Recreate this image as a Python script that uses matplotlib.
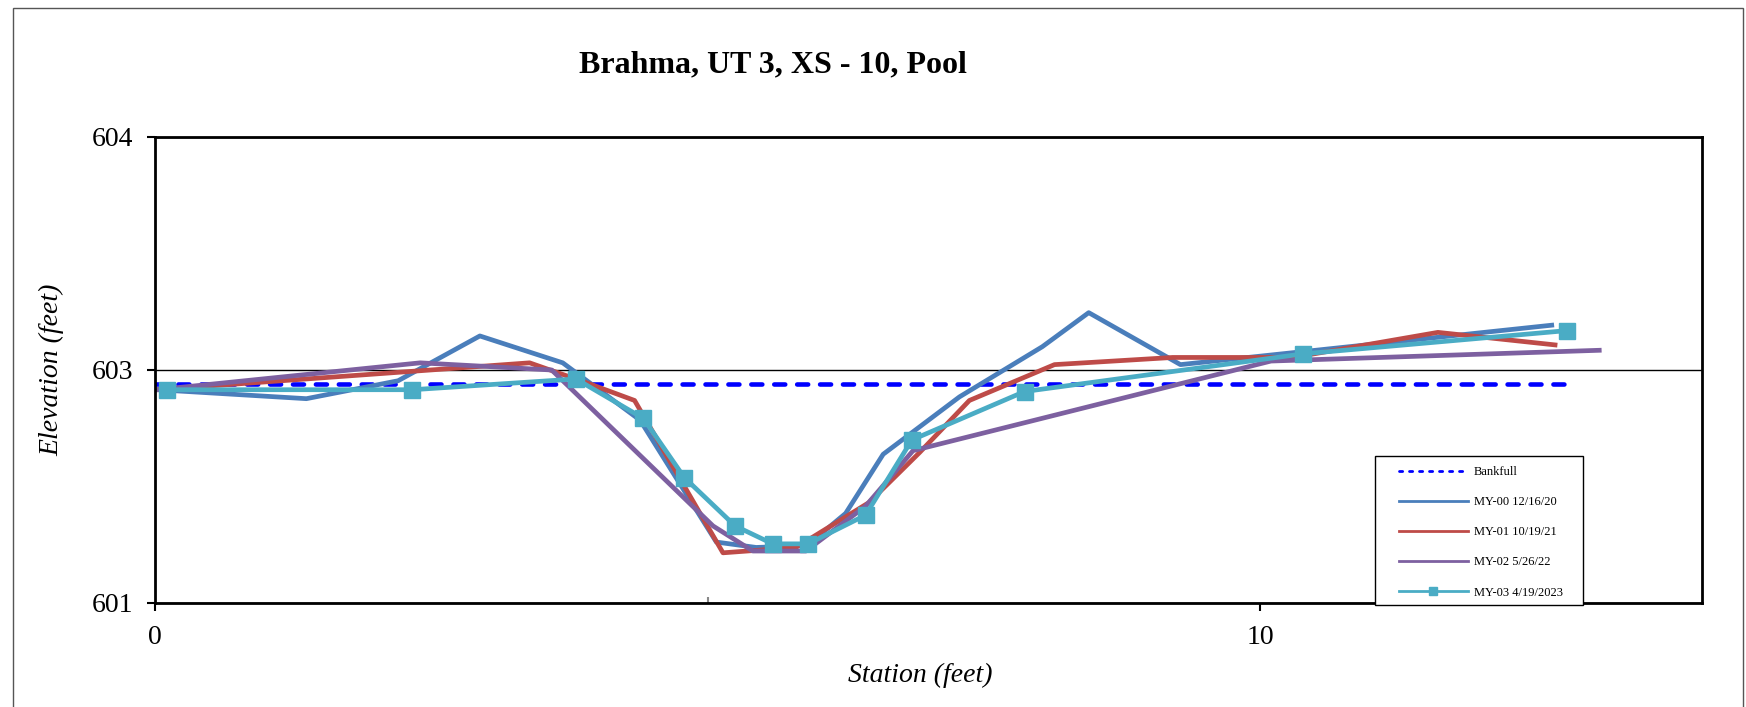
import numpy as np
import matplotlib
matplotlib.use("Agg")
import matplotlib.pyplot as plt
from matplotlib.ticker import FuncFormatter, FixedLocator
from matplotlib.patches import Rectangle

plt.rcParams['font.family'] = ['Liberation Serif', 'DejaVu Serif']

# surveyed cross-section, station (ft) vs elevation (ft)
bankfull_x = [0.0, 12.8]
bankfull_y = [602.62, 602.62]

my00_x = [0.02, 1.37, 2.20, 2.94, 3.69, 4.39, 5.08, 5.44, 5.90, 6.25, 6.59, 7.28, 8.03, 8.45, 9.28, 12.64]
my00_y = [602.59, 602.54, 602.64, 602.89, 602.74, 602.42, 601.74, 601.71, 601.72, 601.90, 602.23, 602.55,
          602.83, 603.02, 602.73, 602.95]

my01_x = [0.02, 3.39, 3.90, 4.34, 5.14, 5.80, 6.46, 6.92, 7.37, 8.14, 9.21, 10.30, 11.61, 12.67]
my01_y = [602.59, 602.74, 602.63, 602.53, 601.68, 601.71, 601.96, 602.24, 602.53, 602.73, 602.77, 602.77,
          602.91, 602.84]

my02_x = [0.02, 2.40, 3.59, 5.05, 5.41, 5.89, 6.43, 6.86, 10.10, 13.07]
my02_y = [602.59, 602.74, 602.70, 601.83, 601.69, 601.69, 601.94, 602.25, 602.75, 602.81]

my03_x = [0.11, 2.33, 3.81, 4.42, 4.79, 5.25, 5.59, 5.91, 6.43, 6.85, 7.87, 10.39, 12.78]
my03_y = [602.59, 602.59, 602.65, 602.43, 602.10, 601.83, 601.73, 601.73, 601.89, 602.31, 602.58, 602.79, 602.92]

y_ticks = [601.4, 602.7, 604.0]

W, H = 1746, 707
fig = plt.figure(figsize=(W / 100, H / 100), dpi=100)
fig.patches.append(Rectangle((13 / W, -0.1), (1743 - 13) / W, 1.1 - 8 / H, transform=fig.transFigure,
                             fill=False, edgecolor='#555555', linewidth=1.0))

ax = fig.add_axes([155 / W, 1 - 603 / H, (1702 - 155) / W, (603 - 137) / H])

ax.plot(bankfull_x, bankfull_y, color='#0000FF', linewidth=3.3, linestyle=(0, (2.4, 2.6)),
        dash_capstyle='round', label='Bankfull')
ax.plot(my00_x, my00_y, color='#4A7EBB', linewidth=3.4, label='MY-00 12/16/20')
ax.plot(my01_x, my01_y, color='#BE4B48', linewidth=3.4, label='MY-01 10/19/21')
ax.plot(my02_x, my02_y, color='#7D60A0', linewidth=3.4, label='MY-02 5/26/22')
ax.plot(my03_x, my03_y, color='#4AACC5', linewidth=3.4, marker='s', markersize=11, label='MY-03 4/19/2023')

ax.set_xlim(0, 14)
ax.set_ylim(y_ticks[0], y_ticks[-1])
ax.xaxis.set_major_locator(FixedLocator([0, 10]))
ax.xaxis.set_minor_locator(FixedLocator([5]))
ax.yaxis.set_major_locator(FixedLocator(y_ticks))
ax.yaxis.set_major_formatter(FuncFormatter(lambda v, p: '%.0f' % v))
ax.tick_params(axis='both', which='major', direction='out', length=6, width=1.5, labelsize=20, pad=10)
ax.tick_params(axis='x', which='minor', direction='in', length=4, width=1.5, color='#888888')
ax.grid(axis='y', color='black', linewidth=1.0)
for s in ax.spines.values():
    s.set_linewidth(2.0)

fig.text(773 / W, 1 - 65 / H, 'Brahma, UT 3, XS - 10, Pool', ha='center', va='center',
         fontsize=23, fontweight='bold')
fig.text(52 / W, 1 - 370 / H, 'Elevation (feet)', ha='center', va='center', rotation=90,
         fontsize=20, style='italic')
fig.text(920 / W, 1 - 675 / H, 'Station (feet)', ha='center', va='center', fontsize=20, style='italic')

# legend box drawn separately so the side padding can be wider than the top/bottom
box = Rectangle((1375 / W, 1 - 605 / H), (1583 - 1375) / W, (605 - 456) / H, transform=fig.transFigure,
                facecolor='white', edgecolor='black', linewidth=1.0, zorder=4.5, clip_on=False)
ax.add_patch(box)
leg = ax.legend(loc='upper left', bbox_to_anchor=(1399 / W, 1 - 466 / H), bbox_transform=fig.transFigure,
                fontsize=9, handlelength=5.5, handletextpad=0.5, labelspacing=1.45, borderpad=0,
                borderaxespad=0, frameon=False)
leg.set_zorder(6)
# thinner sample lines in the key
for i, ln in enumerate(leg.get_lines()):
    ln.set_linewidth(2.0)
    ln.set_markersize(6)
    if i == 0:
        ln.set_linestyle((0, (1.15, 2.45)))
        ln.set_dash_capstyle('round')

fig.savefig('out.png', dpi=100)
